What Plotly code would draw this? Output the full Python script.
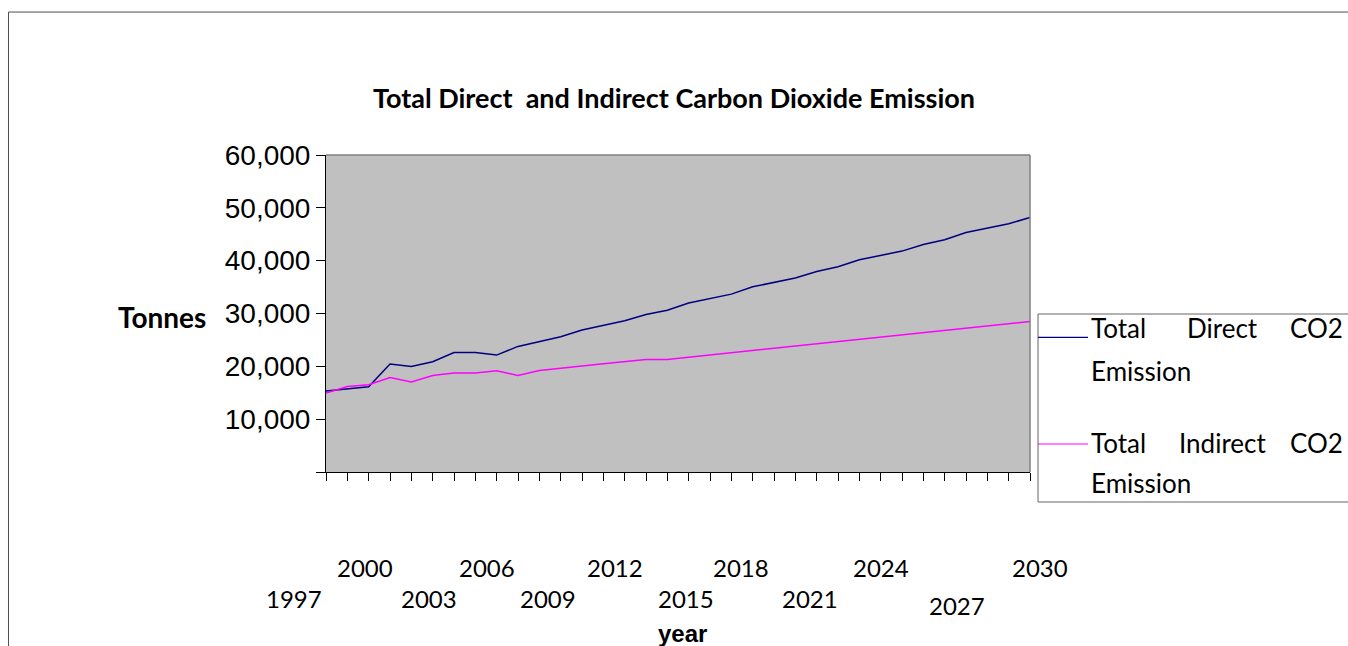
import plotly.graph_objects as go

# ---------------- data ----------------
years = list(range(1997, 2031))
direct_co2 = [15330, 15760, 16140, 20430, 19980, 20870, 22630, 22630, 22130, 23770,
              24720, 25600, 26860, 27740, 28630, 29820, 30600, 31970, 32790, 33670,
              35060, 35950, 36710, 37960, 38850, 40170, 40990, 41810, 43070, 43950,
              45340, 46170, 46980, 48180]
indirect_co2 = [14950, 16200, 16520, 17900, 17030, 18280, 18730, 18730, 19170, 18280,
                19230, 19600, 20060, 20490, 20930, 21310, 21310, 21730, 22160, 22580,
                23000, 23430, 23850, 24280, 24700, 25120, 25550, 25970, 26390, 26810,
                27240, 27660, 28080, 28500]
series_names = ["Total Direct CO2 Emission", "Total Indirect CO2 Emission"]
label_years = [1997, 2000, 2003, 2006, 2009, 2012, 2015, 2018, 2021, 2024, 2027, 2030]
y_tickvals = [0, 10000, 20000, 30000, 40000, 50000, 60000]
y_ticktext = ["", "10,000", "20,000", "30,000", "40,000", "50,000", "60,000"]

# ---------------- style ----------------
label_xshift = [-32, -25, -25, -31, -34, -31, -24, -33, -28, -21, -9, 10]
label_ypaper = [-0.3975, -0.3028, -0.3975, -0.3028, -0.3975, -0.3028, -0.3975,
                -0.3028, -0.3975, -0.3028, -0.4196, -0.3028]
colors = ["#000080", "#FF00FF"]
CAL = "Lato, 'Open Sans', sans-serif"
ARIAL = "'Liberation Sans', Arial, sans-serif"

fig = go.Figure()
fig.add_trace(go.Scatter(x=years, y=direct_co2, mode="lines", name=series_names[0],
                         line=dict(color=colors[0], width=1.5)))
fig.add_trace(go.Scatter(x=years, y=indirect_co2, mode="lines", name=series_names[1],
                         line=dict(color=colors[1], width=1.5)))

annotations = []
for yr, dx, yp in zip(label_years, label_xshift, label_ypaper):
    annotations.append(dict(x=yr, y=yp, xref="x", yref="paper", text=str(yr),
                            showarrow=False, xshift=dx, xanchor="center", yanchor="middle",
                            font=dict(family=CAL, size=24, color="black")))

annotations.append(dict(x=-0.233, y=0.489, xref="paper", yref="paper", text="<b>Tonnes</b>",
                        showarrow=False, xanchor="center", yanchor="middle",
                        font=dict(family=CAL, size=28, color="black")))
annotations.append(dict(x=0.5057, y=-0.508, xref="paper", yref="paper", text="<b>year</b>",
                        showarrow=False, xanchor="center", yanchor="middle",
                        font=dict(family=ARIAL, size=24, color="black")))

# legend (justified text, as in the reference)
leg_font = dict(family=CAL, size=26, color="black")
legend_rows = [
    (0.4543, ["Total", "Direct", "CO2"]),
    (0.3186, ["Emission"]),
    (0.0915, ["Total", "Indirect", "CO2"]),
    (-0.0347, ["Emission"]),
]
for yp, words in legend_rows:
    annotations.append(dict(x=1.0845, y=yp, xref="paper", yref="paper", text=words[0],
                            showarrow=False, xanchor="left", yanchor="middle", font=leg_font))
    if len(words) > 1:
        annotations.append(dict(x=1.2734, y=yp, xref="paper", yref="paper", text=words[1],
                                showarrow=False, xanchor="center", yanchor="middle", font=leg_font))
        annotations.append(dict(x=1.4474, y=yp, xref="paper", yref="paper", text=words[2],
                                showarrow=False, xanchor="right", yanchor="middle", font=leg_font))

shapes = [
    # outer chart border
    dict(type="rect", xref="paper", yref="paper", x0=-0.451, x1=1.48, y0=-0.62, y1=1.451,
         line=dict(color="#4d4d4d", width=1), fillcolor="rgba(0,0,0,0)", layer="below"),
    # plot-area top and right border (gray)
    dict(type="line", xref="paper", yref="paper", x0=0, x1=1, y0=1, y1=1,
         line=dict(color="#808080", width=1.5)),
    dict(type="line", xref="paper", yref="paper", x0=1, x1=1, y0=0, y1=1,
         line=dict(color="#808080", width=1.5)),
    # legend box
    dict(type="rect", xref="paper", yref="paper", x0=1.0114, x1=1.48, y0=-0.0946, y1=0.4984,
         line=dict(color="#666666", width=1), fillcolor="white"),
    # legend samples
    dict(type="line", xref="paper", yref="paper", x0=1.0114, x1=1.0824, y0=0.4249, y1=0.4249,
         line=dict(color=colors[0], width=1.2)),
    dict(type="line", xref="paper", yref="paper", x0=1.0114, x1=1.0824, y0=0.0883, y1=0.0883,
         line=dict(color=colors[1], width=1.2)),
]

fig.update_layout(
    width=1348, height=646,
    margin=dict(l=326, r=318, t=155, b=174),
    paper_bgcolor="white",
    plot_bgcolor="#C0C0C0",
    showlegend=False,
    title=dict(text="<b>Total Direct  and Indirect Carbon Dioxide Emission</b>",
               x=0.5, xref="container", xanchor="center", y=0.848, yref="container",
               yanchor="middle", font=dict(family=CAL, size=27, color="black")),
    annotations=annotations,
    shapes=shapes,
)

fig.update_xaxes(range=[1997, 2030], tickmode="array", tickvals=years, showticklabels=False,
                 ticks="outside", ticklen=8, tickcolor="black", tickwidth=1,
                 showline=True, linecolor="black", linewidth=1, showgrid=False, zeroline=False)
fig.update_yaxes(range=[0, 60000], tickmode="array", tickvals=y_tickvals, ticktext=y_ticktext,
                 ticks="outside", ticklen=9, tickcolor="black", tickwidth=1,
                 showline=True, linecolor="black", linewidth=1, showgrid=False, zeroline=False,
                 tickfont=dict(family=ARIAL, size=28, color="black"))

# remove the default page margin/scrollbars so the figure fills the window exactly
fig.write_html("out.html",
               config={"displayModeBar": False},
               post_script="document.body.style.margin='0';"
                           "document.body.style.overflow='hidden';")
